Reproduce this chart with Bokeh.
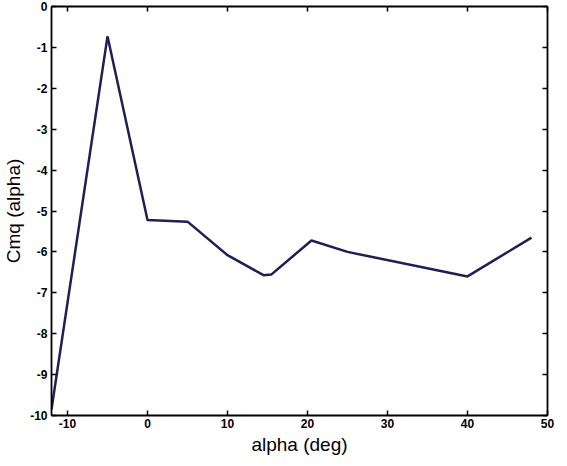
from bokeh.plotting import figure
from bokeh.models import LinearAxis, FixedTicker, ColumnDataSource, Range1d
from bokeh.embed import file_html
from bokeh.resources import INLINE

alpha_deg = [-12, -5, 0, 5, 10, 14.5, 15.5, 20.5, 25, 40, 48]
cmq_alpha = [-9.85, -0.73, -5.22, -5.26, -6.08, -6.57, -6.55, -5.72, -6.0, -6.6, -5.65]
x_ticks = [-10, 0, 10, 20, 30, 40, 50]
y_ticks = [0, -1, -2, -3, -4, -5, -6, -7, -8, -9, -10]

src = ColumnDataSource(data=dict(x=alpha_deg, y=cmq_alpha))

p = figure(frame_width=496, frame_height=409, output_backend="svg", toolbar_location=None,
           x_range=Range1d(-12, 50), y_range=Range1d(-10, 0),
           min_border_left=48, min_border_top=6, min_border_right=7, min_border_bottom=10,
           background_fill_color="white", border_fill_color="white")
p.grid.visible = False
p.outline_line_color = None

p.line("x", "y", source=src, line_color="#1f1f55", line_width=2.5)

FONT = "Liberation Sans"

def style(ax, ticks, show_labels):
    ax.ticker = FixedTicker(ticks=ticks)
    ax.major_label_overrides = {t: str(t) for t in ticks}
    ax.axis_line_color = "black"
    ax.axis_line_width = 1.8
    ax.major_tick_in = 5
    ax.major_tick_out = 0
    ax.major_tick_line_color = "black"
    ax.major_tick_line_width = 1.5
    ax.minor_tick_line_color = None
    ax.major_label_text_font = FONT
    ax.major_label_text_font_style = "bold"
    ax.major_label_text_font_size = "12px"
    ax.major_label_text_color = "black"
    ax.major_label_standoff = 4
    ax.axis_label_text_font = FONT
    ax.axis_label_text_font_style = "normal"
    ax.axis_label_text_font_size = "19px"
    ax.axis_label_text_color = "black"
    ax.axis_label_standoff = 3
    if not show_labels:
        ax.major_label_text_font_size = "0px"
        ax.major_label_text_color = None

style(p.xaxis[0], x_ticks, True)
style(p.yaxis[0], y_ticks, True)
p.xaxis[0].axis_label = "alpha (deg)"
p.yaxis[0].axis_label = "Cmq (alpha)"
p.xaxis[0].major_label_standoff = 3

top = LinearAxis()
style(top, x_ticks, False)
p.add_layout(top, "above")
right = LinearAxis()
style(right, y_ticks, False)
p.add_layout(right, "right")

open("out.html", "w").write(file_html(p, INLINE))
